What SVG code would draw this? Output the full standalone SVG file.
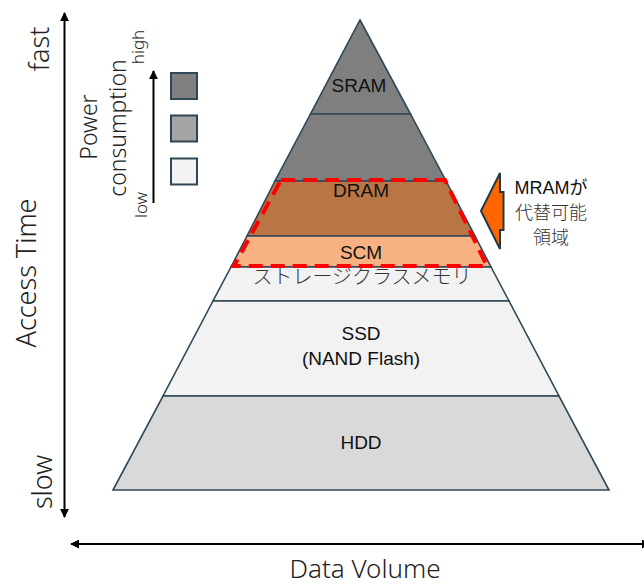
<svg xmlns="http://www.w3.org/2000/svg" width="644" height="585" viewBox="0 0 644 585">
  <style>
    .layer { stroke: #2f4756; stroke-width: 1.6; stroke-linejoin: miter; }
    .lbl { font-family: "Liberation Sans", Arial, sans-serif; font-size: 19px; fill: #111; text-anchor: middle; }
    .axis { font-family: "Noto Sans", "Open Sans", sans-serif; font-weight: 300; fill: #222; text-anchor: middle; }
    .jp { font-family: "Noto Sans CJK JP", "Noto Sans", sans-serif; font-weight: 300; fill: #333; text-anchor: middle; }
    .key { stroke: #2f4756; stroke-width: 2; }
    .arrow { stroke: #000; stroke-width: 2; fill: none; }
  </style>
  <defs>
    <marker id="head" viewBox="0 0 10 10" refX="9" refY="5" markerWidth="4.5" markerHeight="4.5" orient="auto-start-reverse" markerUnits="strokeWidth">
      <path d="M0,0 L10,5 L0,10 Z" fill="#000"/>
    </marker>
  </defs>

  <rect width="644" height="585" fill="#fff"/>

  <!-- memory hierarchy pyramid, top to bottom -->
  <g id="sram">
    <polygon class="layer" points="360,20 410.5,114 310.5,114" fill="#7f7f7f"/>
    <text class="lbl" x="359" y="92">SRAM</text>
  </g>
  <g id="sram-lower">
    <polygon class="layer" points="310.5,114 410.5,114 446,181 275,181" fill="#7f7f7f"/>
  </g>
  <g id="dram">
    <polygon class="layer" points="275,181 446,181 475,236 247,236" fill="#b87647"/>
    <text class="lbl" x="361" y="197">DRAM</text>
  </g>
  <g id="scm">
    <polygon class="layer" points="247,236 475,236 491,267 231,267" fill="#f7b183"/>
    <text class="lbl" x="361" y="259">SCM</text>
  </g>
  <g id="storage-class">
    <polygon class="layer" points="231,267 491,267 509,301 213,301" fill="#f2f2f2"/>
    <text class="jp" x="362" y="284" font-size="20">ストレージクラスメモリ</text>
  </g>
  <g id="ssd">
    <polygon class="layer" points="213,301 509,301 559,396 163,396" fill="#f2f2f2"/>
    <text class="lbl" x="361" y="340">SSD</text>
    <text class="lbl" x="361" y="365">(NAND Flash)</text>
  </g>
  <g id="hdd">
    <polygon class="layer" points="163,396 559,396 609,490 113,490" fill="#d9d9d9"/>
    <text class="lbl" x="361" y="449">HDD</text>
  </g>

  <!-- region replaceable by MRAM -->
  <g id="mram-region">
    <polygon points="281,180 445,180 487,266 234,266" fill="none" stroke="#ff0000" stroke-width="4" stroke-dasharray="14,8"/>
  </g>
  <g id="mram-callout">
    <polygon points="481,211 500,173 500,192 503.5,192 503.5,230 500,230 500,249" fill="#ff6600" stroke="#1f3a4a" stroke-width="2" stroke-linejoin="miter"/>
    <text class="jp" x="551" y="194" font-size="18" style="font-family:'Liberation Sans','Noto Sans CJK JP',sans-serif;font-weight:400;fill:#111">MRAMが</text>
    <text class="jp" x="551" y="219" font-size="18">代替可能</text>
    <text class="jp" x="551" y="244" font-size="18">領域</text>
  </g>

  <!-- power consumption key -->
  <g id="power-key">
    <rect class="key" x="171" y="73" width="26" height="26" fill="#7f7f7f"/>
    <rect class="key" x="171" y="115.5" width="26" height="26" fill="#a5a5a5"/>
    <rect class="key" x="171" y="158.5" width="26" height="26" fill="#f2f2f2"/>
    <text class="axis" font-size="23" transform="translate(97,127) rotate(-90)">Power</text>
    <text class="axis" font-size="23" transform="translate(126,128) rotate(-90)">consumption</text>
    <text class="axis" font-size="17" transform="translate(144,47) rotate(-90)">high</text>
    <text class="axis" font-size="17" transform="translate(147,205) rotate(-90)">low</text>
  </g>

  <!-- axes -->
  <g id="connectors">
    <line class="arrow" x1="64.5" y1="517" x2="64.5" y2="13" marker-start="url(#head)" marker-end="url(#head)"/>
    <line class="arrow" x1="71" y1="544" x2="650" y2="544" marker-start="url(#head)" marker-end="url(#head)"/>
    <line class="arrow" x1="153.5" y1="203" x2="153.5" y2="71" stroke-width="1.6" marker-end="url(#head)"/>
  </g>

  <g id="axis-labels">
    <text class="axis" font-size="27" transform="translate(49,49) rotate(-90)">fast</text>
    <text class="axis" font-size="27" transform="translate(36,273) rotate(-90)">Access Time</text>
    <text class="axis" font-size="27" transform="translate(52,482) rotate(-90)">slow</text>
    <text class="axis" font-size="26" x="365" y="578">Data Volume</text>
  </g>
</svg>
